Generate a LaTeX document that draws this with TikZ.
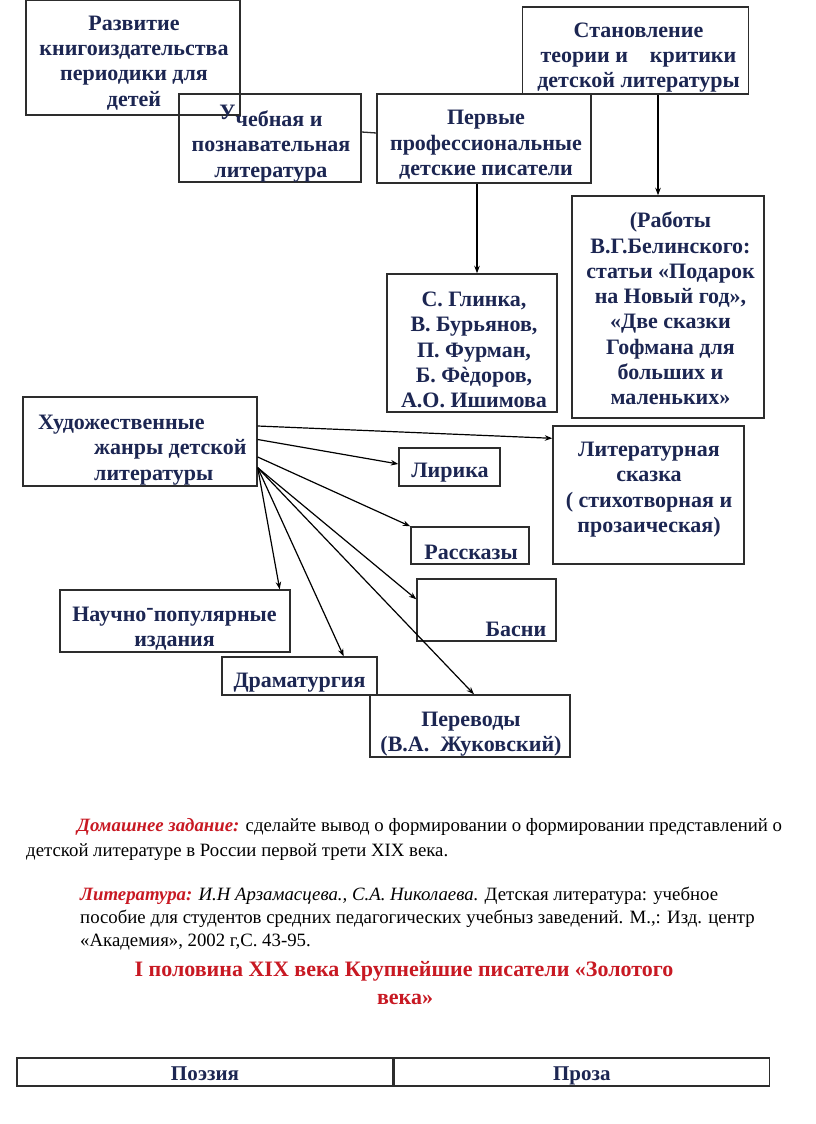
\documentclass[tikz,border=0pt]{standalone}
\usepackage{fontspec}
\setmainfont{Liberation Serif}
\usetikzlibrary{arrows.meta}
\definecolor{navy}{RGB}{28,38,82}
\definecolor{redtxt}{RGB}{200,25,35}
\definecolor{boxline}{RGB}{45,45,45}
\begin{document}
\begin{tikzpicture}[x=1pt,y=-1pt,
  box/.style={draw=boxline,line width=1.4pt,inner sep=0pt},
  txt/.style={inner sep=0pt,text=navy,align=center,font=\fontsize{22}{25.3}\selectfont\bfseries},
  arr/.style={draw=black,line width=1.2pt,-{Stealth[length=7.5pt,width=5.5pt]}},
  body/.style={inner sep=0pt,anchor=base west,font=\fontsize{18.8}{23}\selectfont},
  title/.style={inner sep=0pt,anchor=base,text=redtxt,font=\fontsize{22}{25}\selectfont\bfseries},
  cell/.style={draw=boxline,line width=1.3pt,inner sep=0pt,minimum height=28pt,text height=18pt,text depth=2pt,text=navy,font=\fontsize{21}{25}\selectfont\bfseries}
]
\useasboundingbox (0,0) rectangle (816,1124);
\fill[white] (0,0) rectangle (816,1124);

% top boxes
\node[box,minimum width=214pt,minimum height=115pt] (razv) at (133,57.5) {};
\node[txt] (razv-t) at (134,63) {Развитие\\книгоиздательства\\периодики для\\детей};

\node[box,minimum width=182pt,minimum height=88pt] (ucheb) at (270,138) {};
\node[txt] (ucheb-t) at (271,143.5) {\raisebox{7pt}{У}чебная и\\познавательная\\литература};

\node[box,minimum width=214pt,minimum height=89pt] (perv) at (484,138.5) {};
\node[txt] (perv-t) at (486,145) {Первые\\профессиональные\\детские писатели};

\node[box,minimum width=226pt,minimum height=87pt] (stan) at (635.5,50.5) {};
\node[txt] (stan-t) at (638.5,57.5) {Становление\\теории и\hspace{22pt}критики\\детской литературы};

\node[box,minimum width=192pt,minimum height=222pt] (rab) at (668,307) {};
\node[txt] (rab-t) at (670.5,308.5) {(Работы\\В.Г.Белинского:\\статьи «Подарок\\на Новый год»,\\«Две сказки\\Гофмана для\\больших и\\маленьких»};

\node[box,minimum width=170pt,minimum height=138pt] (glin) at (472,343) {};
\node[txt] (glin-t) at (474,350) {С. Глинка,\\В. Бурьянов,\\П. Фурман,\\Б. Фѐдоров,\\А.О. Ишимова};

\draw[boxline,line width=1.3pt] ([yshift=6pt]ucheb.east) -- ([yshift=5.5pt]perv.west);
\draw[arr] ([xshift=22.5pt]stan.south) -- ([xshift=-10pt]rab.north);
\draw[arr] ([xshift=-7pt]perv.south) -- ([xshift=5pt]glin.north);

% genres
\node[box,minimum width=234pt,minimum height=89pt] (khud) at (140,441.5) {};
\node[txt,align=left,anchor=west] (khud-t) at (38,450) {Художественные\\\hspace*{56pt}жанры детской\\\hspace*{56pt}литературы};

\node[box,minimum width=191pt,minimum height=138pt] (skaz) at (648.5,495) {};
\node[txt] (skaz-t) at (649,489.5) {Литературная\\сказка\\( стихотворная и\\прозаическая)};

\node[box,minimum width=101pt,minimum height=38pt] (lir) at (449.5,467) {};
\node[txt] (lir-t) at (450,473) {Лирика};

\node[box,minimum width=118pt,minimum height=37pt] (rass) at (470,545.5) {};
\node[txt] (rass-t) at (471,552) {Рассказы};

\node[box,minimum width=139pt,minimum height=62pt] (basni) at (486.5,610) {};
\node[txt] (basni-t) at (516,629) {Басни};

\node[box,minimum width=230pt,minimum height=62pt] (nauch) at (175,621) {};
\node[txt] (nauch-t) at (174.5,628.5) {Научно\raisebox{0.28em}{-}популярные\\издания};

\node[box,minimum width=155pt,minimum height=38pt] (dram) at (299.5,676) {};
\node[txt] (dram-t) at (299.5,683) {Драматургия};

\node[box,minimum width=200pt,minimum height=62pt] (perev) at (470,726) {};
\node[txt] (perev-t) at (471,734) {Переводы\\(В.А.\ \ Жуковский)};

\coordinate (fan) at ([yshift=19pt]khud.south east);
\draw[arr] ([yshift=15.5pt]khud.east) -- ([yshift=-13pt]skaz.north west);
\draw[arr] ([yshift=2pt]khud.east) -- ([yshift=3pt]lir.west);
\draw[arr] ([yshift=-15.5pt]khud.east) -- (rass.north west);
\draw[arr] (fan) -- ([xshift=-11pt]nauch.north east);
\draw[arr] (fan) -- ([xshift=-34pt]dram.north east);
\draw[arr] (fan) -- ([yshift=-21pt]basni.north west);
\draw[arr] (fan) -- ([xshift=4pt]perev.north);

% text below
\node[body] (hw1) at (77,831) {\textcolor{redtxt}{\bfseries\itshape Домашнее задание:} сделайте вывод о формировании о формировании представлений о};
\node[body] (hw2) at (26,856) {детской литературе в России первой трети XIX века.};
\node[body] (lit1) at (80,900) {\textcolor{redtxt}{\bfseries\itshape Литература:} \textit{И.Н Арзамасцева., С.А. Николаева.} Детская литература: учебное};
\node[body] (lit2) at (80,923) {пособие для студентов средних педагогических учебныз заведений. М.,: Изд. центр};
\node[body] (lit3) at (80,946) {«Академия», 2002 г,С. 43-95.};
\node[title] (tit1) at (404,976) {I половина XIX века Крупнейшие писатели «Золотого};
\node[title] (tit2) at (405,1004) {века»};

% table
\node[cell,minimum width=376pt] (poez) at (205,1072) {Поэзия};
\node[cell,minimum width=375pt,anchor=west] (proz) at (poez.east) {Проза};
\end{tikzpicture}
\end{document}
